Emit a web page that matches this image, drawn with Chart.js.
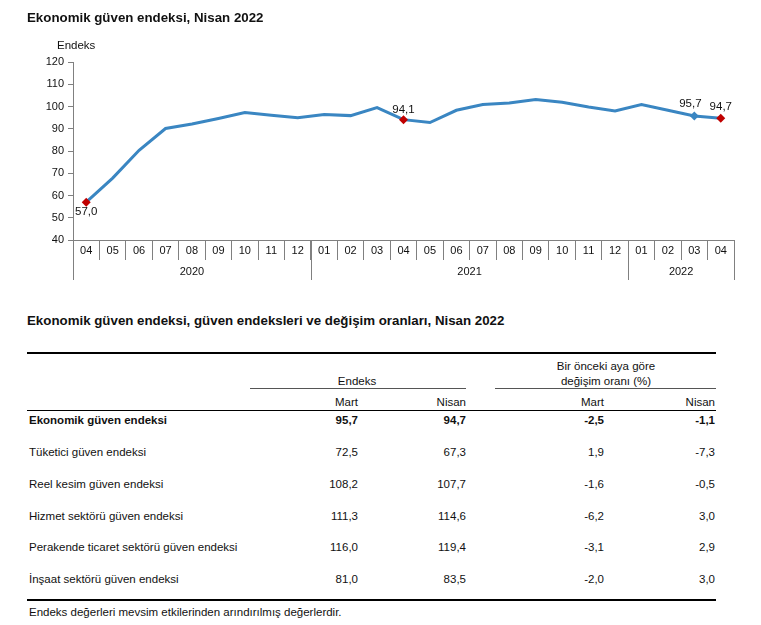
<!DOCTYPE html>
<html lang="tr">
<head>
<meta charset="utf-8">
<script src="https://cdn.jsdelivr.net/npm/chart.js@4.4.1/dist/chart.umd.min.js"></script>
<style>
  body { margin: 0; background: #fff; font-family: "Liberation Sans", Arial, sans-serif; color: #111; }
  #page { position: relative; width: 761px; height: 625px; overflow: hidden; }
  #chart { position: absolute; left: 0; top: 0; }
  .t { position: absolute; white-space: nowrap; line-height: 1; }
  .rule { position: absolute; background: #000; }
</style>
</head>
<body>
<div id="page">
  <canvas id="chart" width="761" height="290"></canvas>
</div>
<script>
// Aylar (2020/04 - 2022/04)
const months = ['04','05','06','07','08','09','10','11','12','01','02','03','04','05','06','07','08','09','10','11','12','01','02','03','04']
const years = ['2020', '2021', '2022']
const yearSpans = [9, 12, 4]

// Ekonomik güven endeksi
const endeks = [57.0, 67.8, 80.3, 90.1, 92.1, 94.6, 97.3, 96.1, 94.9, 96.4, 95.9, 99.5,
                94.1, 92.8, 98.3, 100.9, 101.6, 103.1, 101.9, 99.8, 98.0, 100.9, 98.3, 95.7, 94.7]
const redPoints = [0, 12, 24]
const bluePoints = [23]
const labelPoints = [0, 12, 23, 24]

// Tablo
const rowNames = [
  'Ekonomik güven endeksi',
  'Tüketici güven endeksi',
  'Reel kesim güven endeksi',
  'Hizmet sektörü güven endeksi',
  'Perakende ticaret sektörü güven endeksi',
  'İnşaat sektörü güven endeksi'
]
const endeksMart = [95.7, 72.5, 108.2, 111.3, 116.0, 81.0]
const endeksNisan = [94.7, 67.3, 107.7, 114.6, 119.4, 83.5]
const degisimMart = [-2.5, 1.9, -1.6, -6.2, -3.1, -2.0]
const degisimNisan = [-1.1, -7.3, -0.5, 3.0, 2.9, 3.0]

const fmt = v => v.toFixed(1).replace('.', ',')

const page = document.getElementById('page')
function text(str, x, y, opts = {}) {
  const el = document.createElement('div')
  el.className = 't'
  const size = opts.size || 11.5
  el.style.fontSize = size + 'px'
  el.style.top = (y - size / 2) + 'px'
  if (opts.bold) el.style.fontWeight = 'bold'
  if (opts.align === 'right') el.style.right = (761 - x) + 'px'
  else if (opts.align === 'center') { el.style.left = (x - 200) + 'px'; el.style.width = '400px'; el.style.textAlign = 'center' }
  else el.style.left = x + 'px'
  el.textContent = str
  page.appendChild(el)
}
function rule(x1, x2, y, h, color) {
  const el = document.createElement('div')
  el.className = 'rule'
  el.style.left = x1 + 'px'
  el.style.width = (x2 - x1) + 'px'
  el.style.top = y + 'px'
  el.style.height = h + 'px'
  if (color) el.style.background = color
  page.appendChild(el)
}

// Başlıklar
text('Ekonomik güven endeksi, Nisan 2022', 27, 18, { size: 13.3, bold: true })
text('Endeks', 57, 46, { size: 11.5 })

const LINE = '#3a86c2'
const RED = '#c00000'
const AXIS = '#808080'

// Yıl grupları ve nokta etiketleri
const extrasPlugin = {
  id: 'extras',
  afterDraw(chart) {
    const ctx = chart.ctx
    const x = chart.scales.x
    const bottom = chart.chartArea.bottom
    const half = (x.getPixelForValue(1) - x.getPixelForValue(0)) / 2
    ctx.save()
    ctx.strokeStyle = AXIS
    ctx.lineWidth = 1
    let start = 0
    const bounds = [0]
    yearSpans.forEach(s => { start += s; bounds.push(start) })
    bounds.forEach(b => {
      const px = Math.round(x.getPixelForValue(b) - half) + 0.5
      ctx.beginPath()
      ctx.moveTo(px, bottom)
      ctx.lineTo(px, bottom + 40)
      ctx.stroke()
    })
    ctx.fillStyle = '#111'
    ctx.font = '11px "Liberation Sans", Arial, sans-serif'
    ctx.textAlign = 'center'
    ctx.textBaseline = 'middle'
    years.forEach((yr, i) => {
      const a = x.getPixelForValue(bounds[i])
      const b = x.getPixelForValue(bounds[i + 1] - 1)
      ctx.fillText(yr, (a + b) / 2, bottom + 32)
    })
    // değer etiketleri
    const meta = chart.getDatasetMeta(0)
    ctx.font = '11.5px "Liberation Sans", Arial, sans-serif'
    labelPoints.forEach(i => {
      const p = meta.data[i]
      let dx = 0, dy = -10
      if (i === 0) dy = 10
      if (i === 23) { dx = -4; dy = -12 }
      if (i === 24) dy = -11
      ctx.fillText(fmt(endeks[i]), p.x + dx, p.y + dy)
    })
    ctx.restore()
  }
}

new Chart(document.getElementById('chart'), {
  type: 'line',
  data: {
    labels: months,
    datasets: [{
      data: endeks,
      borderColor: LINE,
      borderWidth: 3,
      tension: 0,
      pointStyle: 'rectRot',
      pointRadius: endeks.map((v, i) => redPoints.includes(i) || bluePoints.includes(i) ? 4.5 : 0),
      pointBackgroundColor: endeks.map((v, i) => redPoints.includes(i) ? RED : LINE),
      pointBorderColor: endeks.map((v, i) => redPoints.includes(i) ? RED : LINE),
      pointBorderWidth: 0
    }]
  },
  options: {
    responsive: false,
    animation: false,
    layout: { padding: { left: 0, right: 27, top: 62, bottom: 0 } },
    plugins: { legend: { display: false }, tooltip: { enabled: false } },
    scales: {
      x: {
        type: 'category',
        offset: true,
        grid: { display: true, drawOnChartArea: false, drawTicks: true, tickLength: 20, offset: true, color: AXIS },
        border: { display: true, color: AXIS },
        ticks: { color: '#111', font: { size: 11, family: '"Liberation Sans", Arial, sans-serif' }, padding: -16, maxRotation: 0, autoSkip: false },
        afterFit: s => { s.height = 50 }
      },
      y: {
        min: 40,
        max: 120,
        ticks: { stepSize: 10, color: '#111', font: { size: 11, family: '"Liberation Sans", Arial, sans-serif' }, padding: 4 },
        grid: { drawOnChartArea: false, drawTicks: true, tickLength: 5, color: AXIS },
        border: { display: true, color: AXIS },
        afterFit: s => { s.width = 73 }
      }
    }
  },
  plugins: [extrasPlugin]
})

// Tablo
text('Ekonomik güven endeksi, güven endeksleri ve değişim oranları, Nisan 2022', 27, 321, { size: 13.3, bold: true })
rule(27, 716, 352, 2)
text('Endeks', 357, 382, { align: 'center' })
rule(250, 466, 388, 1, '#555')
text('Bir önceki aya göre', 606, 367, { align: 'center' })
text('değişim oranı (%)', 606, 382, { align: 'center' })
rule(495, 716, 388, 1, '#555')
const colRight = [358, 466, 604, 715]
;['Mart', 'Nisan', 'Mart', 'Nisan'].forEach((h, i) => text(h, colRight[i], 403, { align: 'right' }))
rule(27, 716, 410, 1)

rowNames.forEach((name, r) => {
  const y = 421 + r * 31.8
  const bold = r === 0
  text(name, 29, y, { bold })
  ;[endeksMart, endeksNisan, degisimMart, degisimNisan].forEach((col, c) => {
    text(fmt(col[r]), colRight[c], y, { align: 'right', bold })
  })
})
rule(27, 716, 599, 2)
text('Endeks değerleri mevsim etkilerinden arındırılmış değerlerdir.', 29, 613)
</script>
</body>
</html>
